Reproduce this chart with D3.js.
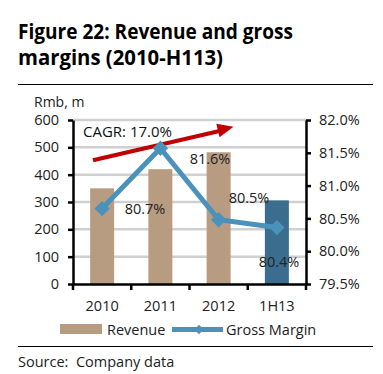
<!DOCTYPE html>
<html>
<head>
<meta charset="utf-8">
<script src="https://cdn.jsdelivr.net/npm/d3@7"></script>
<style>
  body { margin: 0; background: #fff; }
  svg { font-family: 'Open Sans', sans-serif; }
</style>
</head>
<body>
<svg id="chart" width="383" height="374"></svg>
<script>
const categories = ['2010', '2011', '2012', '1H13'];
const revenue = [350, 420, 482, 306];
const grossMargin = [80.65, 81.57, 80.48, 80.36];
const marginLabels = ['80.7%', '81.6%', '80.5%', '80.4%'];
const leftTicks = [0, 100, 200, 300, 400, 500, 600];
const rightTicks = [79.5, 80.0, 80.5, 81.0, 81.5, 82.0];
const cagrLabel = 'CAGR: 17.0%';

const svg = d3.select('#chart');
const margin = { top: 120, right: 77, bottom: 90, left: 73 };
const width = 383, height = 374;

const xBand = d3.scaleBand().domain(categories).range([margin.left, width - margin.right]);
const y = d3.scaleLinear().domain([0, 600]).range([height - margin.bottom, margin.top]);
const y2 = d3.scaleLinear().domain([79.5, 82]).range([height - margin.bottom, margin.top]);
const cx = c => xBand(c) + xBand.bandwidth() / 2;

// title
svg.append('text').attr('x', 18).attr('y', 39)
  .attr('font-size', 20.5).attr('font-weight', 'bold').attr('fill', '#000')
  .attr('textLength', 275).attr('lengthAdjust', 'spacingAndGlyphs')
  .text('Figure 22: Revenue and gross');
svg.append('text').attr('x', 18).attr('y', 65)
  .attr('font-size', 20.5).attr('font-weight', 'bold').attr('fill', '#000')
  .attr('textLength', 205).attr('lengthAdjust', 'spacingAndGlyphs')
  .text('margins (2010-H113)');
svg.append('line').attr('x1', 18).attr('x2', 373).attr('y1', 84.5).attr('y2', 84.5)
  .attr('stroke', '#000').attr('stroke-width', 1);

svg.append('text').attr('x', 34).attr('y', 107).attr('font-size', 14).attr('fill', '#222').text('Rmb, m');

// gridlines
svg.append('g').selectAll('line')
  .data(leftTicks.filter(d => d > 0)).enter().append('line')
  .attr('x1', margin.left).attr('x2', width - margin.right)
  .attr('y1', d => y(d)).attr('y2', d => y(d))
  .attr('stroke', '#d0d0d0').attr('stroke-width', 2.5);

// bars
svg.append('g').selectAll('rect')
  .data(revenue).enter().append('rect')
  .attr('x', (d, i) => cx(categories[i]) - 12)
  .attr('width', 24)
  .attr('y', d => y(d))
  .attr('height', d => y(0) - y(d))
  .attr('fill', (d, i) => categories[i] === '1H13' ? '#3b6e8e' : '#b89c82');

// axes
const tickFont = g => g.selectAll('text').attr('font-size', 14.5).attr('fill', '#222')
  .attr('font-family', "'Open Sans', sans-serif");
svg.append('g')
  .attr('transform', `translate(${margin.left},0)`)
  .call(d3.axisLeft(y).tickValues(leftTicks).tickSize(5).tickPadding(9).tickSizeOuter(0))
  .call(g => g.selectAll('line, path').attr('stroke', '#000').attr('stroke-width', 2.5))
  .call(tickFont);
svg.append('g')
  .attr('transform', `translate(${width - margin.right},0)`)
  .call(d3.axisRight(y2).tickValues(rightTicks).tickFormat(d => d.toFixed(1) + '%')
    .tickSize(5).tickPadding(8).tickSizeOuter(0))
  .call(g => g.selectAll('line, path').attr('stroke', '#000').attr('stroke-width', 2.5))
  .call(tickFont);
svg.append('g')
  .attr('transform', `translate(0,${height - margin.bottom})`)
  .call(d3.axisBottom(xBand).tickSize(0).tickPadding(17).tickSizeOuter(0))
  .call(g => g.select('.domain').attr('stroke', '#000').attr('stroke-width', 2.5))
  .call(tickFont);
// x ticks at band boundaries
const bounds = categories.map(c => xBand(c)).concat([xBand.range()[1]]);
svg.append('g').selectAll('line')
  .data(bounds).enter().append('line')
  .attr('x1', d => d).attr('x2', d => d)
  .attr('y1', height - margin.bottom).attr('y2', height - margin.bottom + 6)
  .attr('stroke', '#000').attr('stroke-width', 2.5);

// CAGR arrow
svg.append('line')
  .attr('x1', xBand('2010') + 20).attr('y1', y(453))
  .attr('x2', xBand('2012') + 30).attr('y2', y(560))
  .attr('stroke', '#c00000').attr('stroke-width', 4);
const tip = [xBand('2012') + 44, y(575)];
const ang = Math.atan2(y(575) - y(453), tip[0] - (xBand('2010') + 20));
const hl = 16, hw = 7;
const bx = tip[0] - hl * Math.cos(ang), by = tip[1] - hl * Math.sin(ang);
svg.append('path')
  .attr('d', `M${tip[0]},${tip[1]} L${bx - hw * Math.sin(ang)},${by + hw * Math.cos(ang)} L${bx + hw * Math.sin(ang)},${by - hw * Math.cos(ang)} Z`)
  .attr('fill', '#c00000');
svg.append('text').attr('x', 83).attr('y', 137).attr('font-size', 15).attr('fill', '#111')
  .text(cagrLabel);

// gross margin line
const line = d3.line().x((d, i) => cx(categories[i])).y(d => y2(d));
svg.append('path').datum(grossMargin)
  .attr('d', line).attr('fill', 'none')
  .attr('stroke', '#4a92bb').attr('stroke-width', 5);
svg.append('g').selectAll('path')
  .data(grossMargin).enter().append('path')
  .attr('d', d3.symbol().type(d3.symbolDiamond2).size(150))
  .attr('transform', (d, i) => `translate(${cx(categories[i])},${y2(d)})`)
  .attr('fill', '#4a92bb');

// data labels
const labelPos = [[145, 214], [210, 164], [249, 203], [279, 267]];
svg.append('g').selectAll('text')
  .data(marginLabels).enter().append('text')
  .attr('x', (d, i) => labelPos[i][0]).attr('y', (d, i) => labelPos[i][1])
  .attr('text-anchor', 'middle').attr('font-size', 14.5).attr('fill', '#222')
  .text(d => d);

// legend
svg.append('rect').attr('x', 60).attr('y', 324).attr('width', 42).attr('height', 10).attr('fill', '#b89c82');
svg.append('text').attr('x', 107).attr('y', 335).attr('font-size', 14.5).attr('fill', '#222').text('Revenue');
svg.append('line').attr('x1', 172).attr('x2', 223).attr('y1', 329.5).attr('y2', 329.5)
  .attr('stroke', '#4a92bb').attr('stroke-width', 5);
svg.append('path').attr('d', d3.symbol().type(d3.symbolDiamond2).size(60))
  .attr('transform', 'translate(199,329.5)').attr('fill', '#4a92bb');
svg.append('text').attr('x', 226).attr('y', 335).attr('font-size', 14.5).attr('fill', '#222').text('Gross Margin');

svg.append('line').attr('x1', 18).attr('x2', 373).attr('y1', 346.5).attr('y2', 346.5)
  .attr('stroke', '#000').attr('stroke-width', 1);
svg.append('text').attr('x', 18).attr('y', 367).attr('font-size', 14.5).attr('fill', '#222')
  .attr('xml:space', 'preserve').text('Source:  Company data');
</script>
</body>
</html>
